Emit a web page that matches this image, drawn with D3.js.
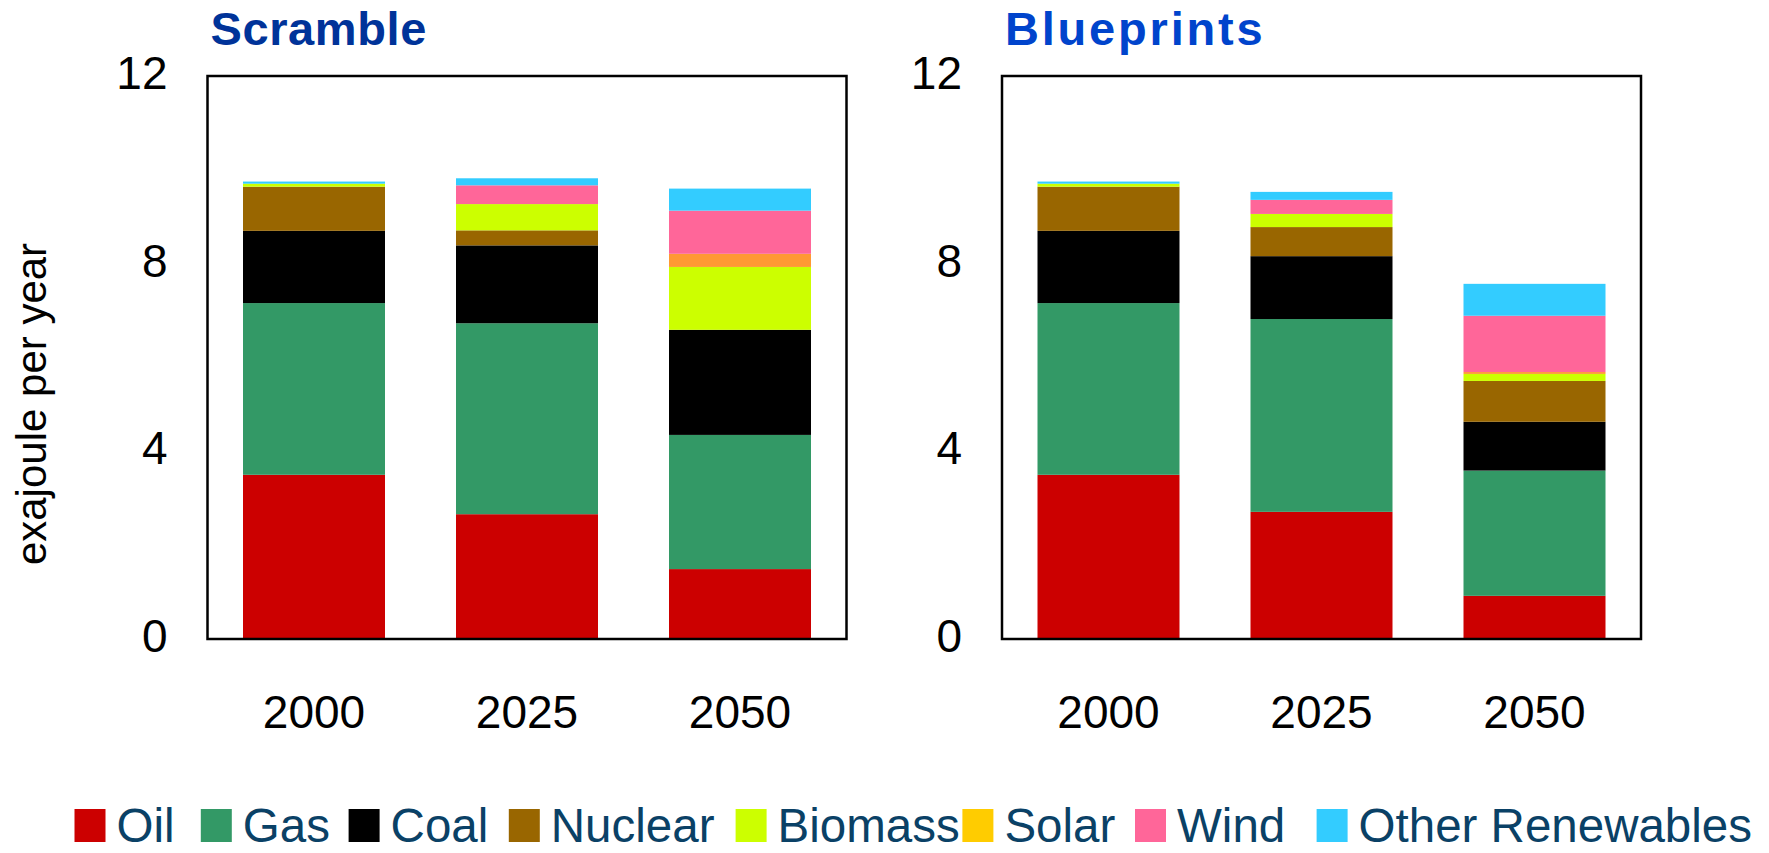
<!DOCTYPE html>
<html>
<head>
<meta charset="utf-8">
<script src="https://cdn.jsdelivr.net/npm/d3@7"></script>
<style>
  html, body { margin: 0; padding: 0; background: #ffffff; }
  svg { display: block; }
  text { font-family: "Liberation Sans", Arial, Helvetica, sans-serif; }
</style>
</head>
<body>
<svg id="chart" width="1769" height="853"></svg>
<script>
// ---------- DATA ----------
const years = ["2000", "2025", "2050"];
const sources = ["Oil", "Gas", "Coal", "Nuclear", "Biomass", "Solar", "Wind", "Other Renewables"];
const yTicks = [0, 4, 8, 12];

// values in exajoule per year, in the order of `sources`
const scramble2000   = [3.50, 3.66, 1.54, 0.94, 0.065, 0.00, 0.00, 0.045];
const scramble2025   = [2.66, 4.07, 1.66, 0.32, 0.56, 0.00, 0.40, 0.15];
const scramble2050   = [1.49, 2.86, 2.24, 0.00, 1.34, 0.28, 0.92, 0.47];
const blueprints2000 = [3.50, 3.66, 1.54, 0.94, 0.065, 0.00, 0.00, 0.045];
const blueprints2025 = [2.71, 4.11, 1.34, 0.62, 0.28, 0.00, 0.30, 0.17];
const blueprints2050 = [0.92, 2.67, 1.04, 0.87, 0.15, 0.04, 1.20, 0.68];

const barColors    = ["#CC0000", "#339966", "#000000", "#996600", "#CCFF00", "#FF9933", "#FF6699", "#33CCFF"];
const legendColors = ["#CC0000", "#339966", "#000000", "#996600", "#CCFF00", "#FFCC00", "#FF6699", "#33CCFF"];

// ---------- LAYOUT ----------
const panels = [
  { title: "Scramble",   color: "#003399", rows: [scramble2000, scramble2025, scramble2050], left: 207.5, spacing: 0.6 },
  { title: "Blueprints", color: "#0044CC", rows: [blueprints2000, blueprints2025, blueprints2050], left: 1002, spacing: 2.8 }
];
const legendX = [74.5, 200.8, 348.6, 508.8, 735.6, 962.4, 1135, 1316.6];

const svg = d3.select("#chart");
const plotW = 639, plotTop = 76, plotBottom = 639;
const y = d3.scaleLinear().domain([0, 12]).range([plotBottom, plotTop]);

const stack = d3.stack().keys(d3.range(sources.length)).value((d, k) => d.vals[k]);

panels.forEach(p => {
  const g = svg.append("g");
  const x = d3.scaleBand().domain(years).range([p.left, p.left + plotW])
    .paddingInner(1 / 3).paddingOuter(1 / 6);

  const table = years.map((yr, i) => ({ year: yr, vals: p.rows[i] }));
  const series = stack(table);

  g.selectAll("g.series").data(series).join("g")
    .attr("class", "series")
    .attr("fill", (d, i) => barColors[i])
    .selectAll("rect").data(d => d).join("rect")
      .attr("x", d => x(d.data.year))
      .attr("width", x.bandwidth())
      .attr("y", d => y(d[1]))
      .attr("height", d => Math.max(0, y(d[0]) - y(d[1])));

  // frame
  g.append("rect")
    .attr("x", p.left).attr("y", plotTop)
    .attr("width", plotW).attr("height", plotBottom - plotTop)
    .attr("fill", "none").attr("stroke", "#000").attr("stroke-width", 2.5);

  // y axis labels
  const yAxis = d3.axisLeft(y).tickValues(yTicks).tickSize(0).tickPadding(40);
  const ya = g.append("g").attr("transform", `translate(${p.left},0)`).call(yAxis);
  ya.select(".domain").remove();
  ya.selectAll("text").attr("font-size", 46).attr("fill", "#000")
    .attr("font-family", "'Liberation Sans', Arial, sans-serif")
    .attr("dy", "0.27em");

  // x axis labels
  const xAxis = d3.axisBottom(x).tickSize(0).tickPadding(56);
  const xa = g.append("g").attr("transform", `translate(0,${plotBottom})`).call(xAxis);
  xa.select(".domain").remove();
  xa.selectAll("text").attr("font-size", 46).attr("fill", "#000")
    .attr("font-family", "'Liberation Sans', Arial, sans-serif");

  // title
  g.append("text")
    .attr("x", p.left + 3).attr("y", 45)
    .attr("font-size", 47).attr("font-weight", "bold")
    .attr("letter-spacing", p.spacing)
    .attr("fill", p.color)
    .text(p.title);
});

// y axis title
svg.append("text")
  .attr("transform", "translate(46,404) rotate(-90)")
  .attr("text-anchor", "middle")
  .attr("font-size", 42)
  .attr("fill", "#000")
  .text("exajoule per year");

// ---------- LEGEND ----------
const swW = 31, swH = 33, swGap = 11, baseY = 842;
const items = svg.append("g").selectAll("g").data(sources).join("g");
items.append("rect")
  .attr("x", (d, i) => legendX[i]).attr("y", baseY - swH)
  .attr("width", swW).attr("height", swH)
  .attr("fill", (d, i) => legendColors[i]);
items.append("text")
  .attr("x", (d, i) => legendX[i] + swW + swGap)
  .attr("y", baseY)
  .attr("font-size", 47.5).attr("fill", "#0A4166")
  .text(d => d);
</script>
</body>
</html>
